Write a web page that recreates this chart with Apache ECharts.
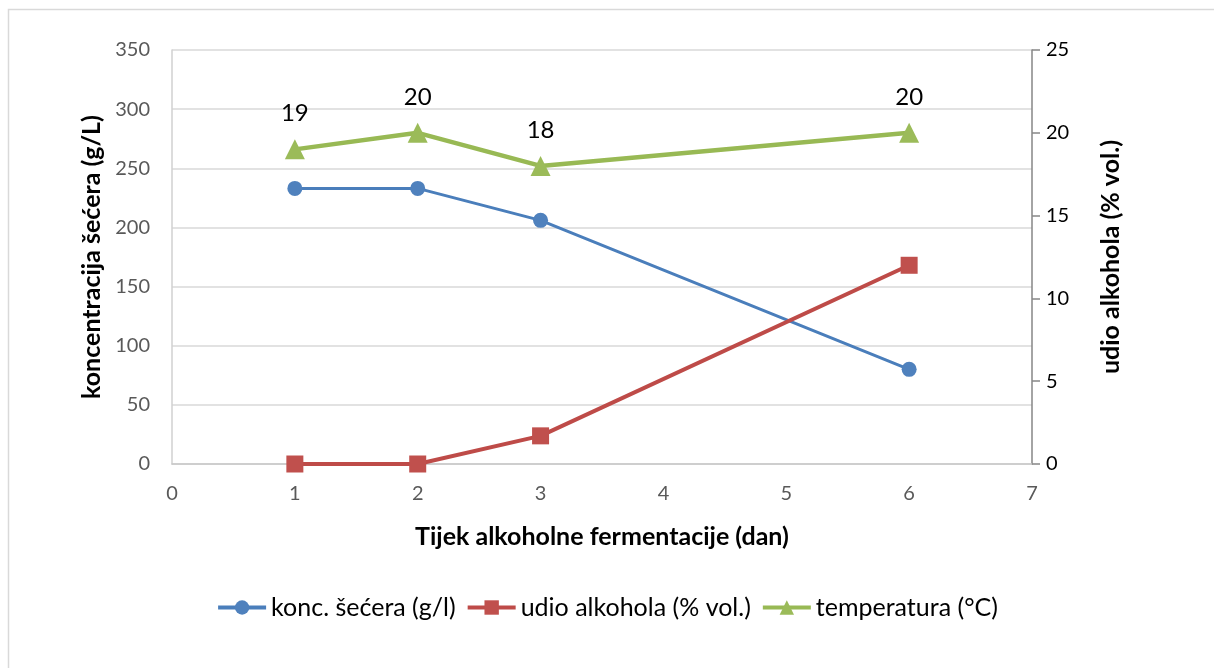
<!DOCTYPE html>
<html><head><meta charset="utf-8">
<script src="https://cdn.jsdelivr.net/npm/echarts@6/dist/echarts.min.js"></script>
<style>html,body{margin:0;padding:0;background:#fff}#c{width:1214px;height:668px}</style>
</head><body><div id="c"></div>
<script>
const days = [1, 2, 3, 6];
const sugar = [233, 233, 206, 80];
const alcohol = [0, 0, 1.7, 12];
const temperature = [19, 20, 18, 20];
const names = ['konc. šećera (g/l)', 'udio alkohola (% vol.)', 'temperatura (°C)'];
const xTicks = [0, 7, 1];
const leftTicks = [0, 350, 50];
const rightTicks = [0, 25, 5];

const F = 'Lato, "Open Sans", sans-serif';
const pair = (xs, ys) => xs.map((x, i) => [x, ys[i]]);
const chart = echarts.init(document.getElementById('c'), null, {renderer: 'canvas'});
chart.setOption({
  animation: false,
  textStyle: {fontFamily: F},
  graphic: [{type: 'rect', shape: {x: 8.5, y: 9.5, width: 1215, height: 670},
    style: {fill: 'none', stroke: '#d9d9d9', lineWidth: 1.5}, silent: true}],
  grid: {left: 172, right: 182, top: 50, bottom: 204},
  legend: {
    bottom: 43, left: 'center', itemGap: 10, itemWidth: 48, itemHeight: 18,
    textStyle: {fontSize: 25, color: '#000', fontFamily: F},
    lineStyle: {width: 4},
    data: names
  },
  xAxis: {
    type: 'value', min: xTicks[0], max: xTicks[1], interval: xTicks[2],
    name: 'Tijek alkoholne fermentacije (dan)', nameLocation: 'middle', nameGap: 60,
    nameTextStyle: {fontSize: 25, fontWeight: 'bold', color: '#000', fontFamily: F},
    axisLine: {lineStyle: {color: '#c8c8c8', width: 1.5}},
    axisTick: {show: false},
    axisLabel: {fontSize: 20, color: '#595959', margin: 20},
    splitLine: {show: false}
  },
  yAxis: [{
    type: 'value', min: leftTicks[0], max: leftTicks[1], interval: leftTicks[2],
    name: 'koncentracija šećera (g/L)', nameLocation: 'middle', nameGap: 68, nameRotate: 90,
    nameTextStyle: {fontSize: 25, fontWeight: 'bold', color: '#000', fontFamily: F},
    axisLine: {show: true, lineStyle: {color: '#d0d0d0', width: 1.5}},
    axisTick: {show: false},
    axisLabel: {fontSize: 20, color: '#595959', margin: 22},
    splitLine: {lineStyle: {color: '#d9d9d9', width: 1.5}}
  }, {
    type: 'value', min: rightTicks[0], max: rightTicks[1], interval: rightTicks[2],
    position: 'right',
    name: 'udio alkohola (% vol.)', nameLocation: 'middle', nameGap: 66, nameRotate: 90,
    nameTextStyle: {fontSize: 25, fontWeight: 'bold', color: '#000', fontFamily: F},
    axisLine: {show: true, lineStyle: {color: '#868686', width: 1.5}},
    axisTick: {show: true, length: 8, lineStyle: {color: '#868686', width: 1.5}},
    axisLabel: {fontSize: 20, color: '#000', margin: 14},
    splitLine: {show: false}
  }],
  series: [{
    name: names[0], type: 'line', yAxisIndex: 0, data: pair(days, sugar),
    symbol: 'circle', symbolSize: 15,
    lineStyle: {color: '#4a7ebb', width: 3}, itemStyle: {color: '#4f81bd'}
  }, {
    name: names[1], type: 'line', yAxisIndex: 1, data: pair(days, alcohol),
    symbol: 'rect', symbolSize: 17,
    lineStyle: {color: '#be4b48', width: 4}, itemStyle: {color: '#c0504d'}
  }, {
    name: names[2], type: 'line', yAxisIndex: 1, data: pair(days, temperature),
    symbol: 'triangle', symbolSize: 20,
    lineStyle: {color: '#98b954', width: 4.5}, itemStyle: {color: '#9bbb59'},
    label: {show: true, position: 'top', distance: 14, fontSize: 24, color: '#000',
      formatter: p => p.value[1]}
  }]
});
</script></body></html>
